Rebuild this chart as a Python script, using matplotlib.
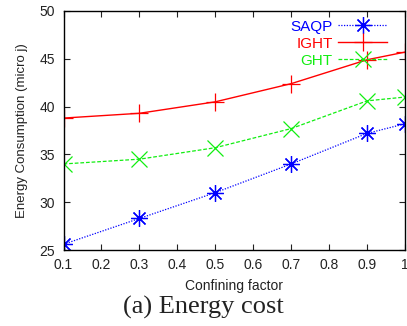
import matplotlib
matplotlib.use("Agg")
import matplotlib.pyplot as plt

# Data
confining = [0.1, 0.3, 0.5, 0.7, 0.9, 1.0]
saqp = [25.6, 28.3, 31.0, 34.0, 37.2, 38.2]
ight = [38.8, 39.3, 40.5, 42.4, 44.9, 45.7]
ght = [34.0, 34.5, 35.7, 37.7, 40.6, 41.0]

x_ticks = [0.1, 0.2, 0.3, 0.4, 0.5, 0.6, 0.7, 0.8, 0.9, 1.0]
x_tick_labels = ["0.1", "0.2", "0.3", "0.4", "0.5", "0.6", "0.7", "0.8", "0.9", "1"]
y_ticks = [25, 30, 35, 40, 45, 50]

plt.rcParams['font.family'] = ['Liberation Sans', 'DejaVu Sans']

fig = plt.figure(figsize=(4.07, 3.26), dpi=100)
ax = fig.add_axes([63.5 / 407, 1 - 250 / 326, (405 - 63.5) / 407, (250 - 11) / 326])

star = (8, 2, 0)  # gnuplot-like asterisk (+ and x combined)
ax.plot(confining, saqp, color='#0000ff', linestyle=(0, (1, 1.2)), linewidth=0.9,
        marker=star, markersize=12, markeredgewidth=0.9, label='SAQP')
ax.plot(confining, ight, color='#ff0000', linestyle='-', linewidth=1.0,
        marker='+', markersize=13, markeredgewidth=0.9, label='IGHT')
ax.plot(confining, ght, color='#11ee11', linestyle=(0, (3, 1.5)), linewidth=0.9,
        marker='x', markersize=11, markeredgewidth=0.9, label='GHT')

ax.set_xlim(0.1, 1.0)
ax.set_ylim(25, 50)
ax.set_xticks(x_ticks)
ax.set_xticklabels(x_tick_labels)
ax.set_yticks(y_ticks)
ax.tick_params(direction='in', top=True, right=True, length=4, width=0.8,
               labelsize=10, colors='#222222', pad=6)
for s in ax.spines.values():
    s.set_linewidth(1.0)
    s.set_color('black')

ax.set_xlabel("Confining factor", fontsize=10, color='#222222', labelpad=5)
ax.set_ylabel("Energy Consumption (micro j)", fontsize=9.5, color='#222222', labelpad=8)

leg = ax.legend(loc='upper right', frameon=False, markerfirst=False, fontsize=11,
                handlelength=3.2, handletextpad=0.35, labelspacing=0.2,
                borderpad=0, borderaxespad=0,
                bbox_to_anchor=(387 / 407, 1 - 19.5 / 326),
                bbox_transform=fig.transFigure)
for text, line in zip(leg.get_texts(), leg.get_lines()):
    text.set_color(line.get_color())

fig.text(0.5, 0.058, "(a) Energy cost", ha='center', va='center',
         fontsize=19, family='Liberation Serif', color='#222222')

fig.savefig("out.png", dpi=100)
